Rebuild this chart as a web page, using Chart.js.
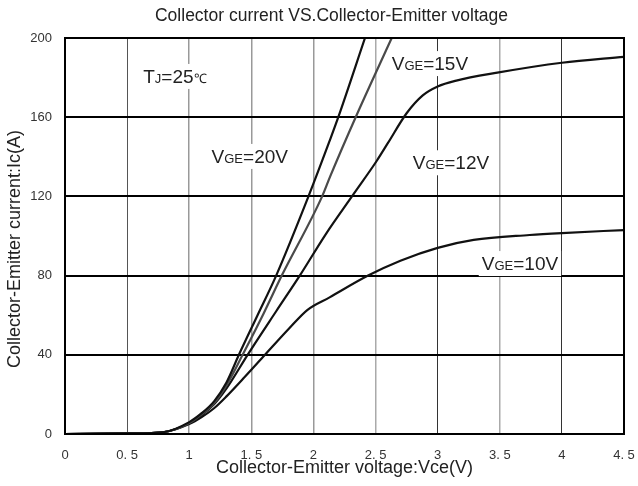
<!DOCTYPE html>
<html>
<head>
<meta charset="utf-8">
<script src="https://cdn.jsdelivr.net/npm/chart.js@4/dist/chart.umd.min.js"></script>
<style>
  html, body { margin: 0; padding: 0; background: #fff; }
  #wrap { width: 638px; height: 486px; position: relative; }
</style>
</head>
<body>
<div id="wrap"><canvas id="c" width="638" height="486"></canvas></div>
<script>
// ---- data ----
const xTickLabels = ['0', '0. 5', '1', '1. 5', '2', '2. 5', '3', '3. 5', '4', '4. 5'];
const yTickLabels = ['0', '40', '80', '120', '160', '200'];

const vce20 = [0, 0.5, 0.8, 1.0, 1.1, 1.2, 1.3, 1.4, 1.55, 1.7, 1.96, 2.13, 2.2, 2.415];
const ic20  = [0, 0.3, 1, 6, 10.5, 16.5, 26, 40, 60, 80, 120, 148, 160, 200];

const vce15 = [0, 0.5, 0.8, 1.0, 1.1, 1.2, 1.3, 1.43, 1.6, 1.745, 2.07, 2.134, 2.34, 2.63];
const ic15  = [0, 0.3, 1, 5.5, 10, 15.5, 24.5, 40, 61, 80, 120, 130, 160, 200];

const vce12 = [0, 0.5, 0.8, 1.0, 1.1, 1.2, 1.3, 1.47, 1.7, 1.89, 2.1, 2.31, 2.51, 2.6, 2.75, 2.88, 3.0, 3.15, 3.48, 4.0, 4.5];
const ic12  = [0, 0.3, 1, 5.5, 9.5, 15, 23, 40, 62, 80, 101, 120, 138, 147, 162, 171, 175.5, 178.5, 182.5, 187.5, 190.5];

const vce10 = [0, 0.5, 0.8, 1.0, 1.1, 1.2, 1.3, 1.45, 1.61, 1.8, 1.95, 2.13, 2.44, 2.7, 3.0, 3.29, 3.74, 4.0, 4.5];
const ic10  = [0, 0.3, 1, 5, 8.5, 13, 19, 29, 40, 53, 62.6, 69, 80, 87.5, 94, 98, 100.5, 101.5, 103];

const seriesNames = ['VGE=20V', 'VGE=15V', 'VGE=12V', 'VGE=10V'];

const chartTitle = 'Collector current VS.Collector-Emitter voltage';
const xTitle = 'Collector-Emitter voltage:Vce(V)';
const yTitle = 'Collector-Emitter current:Ic(A)';

// ---- annotation labels (data coordinates) ----
const notes = [
  { x: 0.63, y: 177.3, parts: [['T', 19], ['J', 13], ['=25', 19], ['\u2103', 13]] },
  { x: 1.18, y: 136.9, parts: [['V', 19], ['GE', 13], ['=20V', 19]] },
  { x: 2.63, y: 183.8, parts: [['V', 19], ['GE', 13], ['=15V', 19]] },
  { x: 2.80, y: 133.7, parts: [['V', 19], ['GE', 13], ['=12V', 19]] },
  { x: 3.355, y: 82.8, parts: [['V', 19], ['GE', 13], ['=10V', 19]] }
];

const FONT = "'Liberation Sans', Arial, sans-serif";
const xGridColors = ['#000', '#555', '#999', '#999', '#999', '#aaa', '#333', '#aaa', '#333', '#000'];

function pts(xs, ys) { return xs.map((v, i) => ({ x: v, y: ys[i] })); }

const lineColors = ['#111', '#4a4a4a', '#111', '#111'];
const datasets = [[vce20, ic20], [vce15, ic15], [vce12, ic12], [vce10, ic10]].map((s, i) => ({
  label: seriesNames[i],
  data: pts(s[0], s[1]),
  borderColor: lineColors[i],
  borderWidth: 2.2,
  pointRadius: 0,
  fill: false,
  cubicInterpolationMode: 'monotone'
}));

const notePlugin = {
  id: 'notes',
  beforeDatasetsDraw(chart) {
    const { ctx, scales: { x, y } } = chart;
    ctx.save();
    notes.forEach(n => {
      const px = x.getPixelForValue(n.x);
      const py = y.getPixelForValue(n.y);
      let w = 0;
      n.parts.forEach(p => { ctx.font = p[1] + 'px ' + FONT; w += ctx.measureText(p[0]).width; });
      ctx.fillStyle = '#fff';
      ctx.fillRect(px - 3, py - 19, w + 6, 25);
      ctx.fillStyle = '#222';
      ctx.textBaseline = 'alphabetic';
      ctx.textAlign = 'left';
      let cx = px;
      n.parts.forEach(p => {
        ctx.font = p[1] + 'px ' + FONT;
        ctx.fillText(p[0], cx, py);
        cx += ctx.measureText(p[0]).width;
      });
    });
    ctx.restore();
  },
  afterDraw(chart) {
    const { ctx, chartArea: a } = chart;
    ctx.save();
    ctx.strokeStyle = '#000';
    ctx.lineWidth = 2;
    ctx.strokeRect(a.left, a.top, a.right - a.left, a.bottom - a.top);
    ctx.fillStyle = '#222';
    ctx.textAlign = 'center';
    ctx.textBaseline = 'alphabetic';
    ctx.font = '17.5px ' + FONT;
    ctx.fillText(chartTitle, 331.5, 21);
    ctx.font = '18px ' + FONT;
    ctx.fillText(xTitle, (a.left + a.right) / 2, 473);
    ctx.textBaseline = 'middle';
    ctx.translate(15, 249);
    ctx.rotate(-Math.PI / 2);
    ctx.fillText(yTitle, 0, 0);
    ctx.restore();
  }
};

new Chart(document.getElementById('c'), {
  type: 'line',
  data: { datasets },
  plugins: [notePlugin],
  options: {
    responsive: false,
    animation: false,
    layout: { padding: { left: 0, right: 0, top: 38, bottom: 0 } },
    plugins: {
      legend: { display: false },
      tooltip: { enabled: false },
      title: { display: false }
    },
    scales: {
      x: {
        type: 'linear',
        min: 0, max: 4.5,
        afterFit(s) { s.height = 52; s.paddingRight = 14; s.paddingLeft = 0; },
        ticks: {
          stepSize: 0.5,
          padding: 14,
          color: '#333',
          font: { family: FONT, size: 13 },
          maxRotation: 0,
          autoSkip: false,
          callback: (v, i) => xTickLabels[i]
        },
        grid: {
          drawTicks: false,
          color: (c) => xGridColors[c.index] || '#999',
          lineWidth: (c) => (xGridColors[c.index] === '#999' || xGridColors[c.index] === '#aaa') ? 1.5 : 1
        },
        border: { display: false }
      },
      y: {
        min: 0, max: 200,
        afterFit(s) { s.width = 65; s.paddingTop = 0; s.paddingBottom = 0; },
        ticks: {
          stepSize: 40,
          padding: 13,
          color: '#333',
          font: { family: FONT, size: 13 },
          callback: (v, i) => yTickLabels[i]
        },
        grid: { drawTicks: false, color: '#000', lineWidth: 2 },
        border: { display: false }
      }
    }
  }
});
</script>
</body>
</html>
